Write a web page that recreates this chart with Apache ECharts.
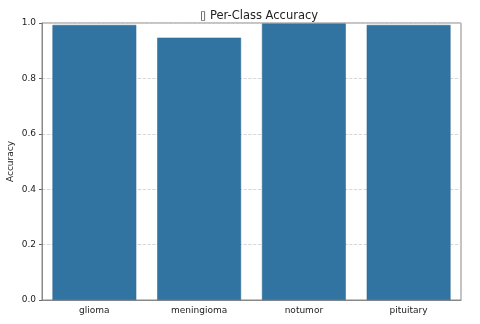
<!DOCTYPE html>
<html>
<head>
<meta charset="utf-8">
<script src="https://cdn.jsdelivr.net/npm/echarts@6/dist/echarts.min.js"></script>
<style>
  html, body { margin: 0; padding: 0; background: #fff; }
  #chart { width: 480px; height: 324px; }
</style>
</head>
<body>
<div id="chart"></div>
<script>
    // per-class accuracy
    var classes = ['glioma', 'meningioma', 'notumor', 'pituitary'];
    var accuracy = [0.993, 0.947, 0.998, 0.993];
    var yTicks = [0.0, 0.2, 0.4, 0.6, 0.8, 1.0];

    var myChart = echarts.init(document.getElementById('chart'));
    var option = {
        animation: false,
        title: {
            text: '\u25AF Per-Class Accuracy',
            left: 254,
            top: 5,
            textAlign: 'center',
            textStyle: { fontFamily: 'DejaVu Sans', fontSize: 11.5, fontWeight: 'normal', color: '#222' }
        },
        grid: {
            left: 42, right: 19, top: 23, bottom: 24,
            containLabel: false, outerBoundsMode: 'none',
            show: true, borderColor: '#888', borderWidth: 1
        },
        xAxis: {
            type: 'category',
            data: classes,
            axisLine: { lineStyle: { color: '#888' } },
            axisTick: { alignWithLabel: true, length: 3, lineStyle: { color: '#666' } },
            axisLabel: { fontFamily: 'DejaVu Sans', fontSize: 9, color: '#222', margin: 6 }
        },
        yAxis: {
            type: 'value',
            min: 0, max: 1, interval: 0.2,
            name: 'Accuracy',
            nameLocation: 'middle',
            nameGap: 27,
            nameMoveOverlap: false,
            nameTextStyle: { fontFamily: 'DejaVu Sans', fontSize: 9, color: '#222' },
            axisLine: { show: true, lineStyle: { color: '#888' } },
            axisTick: { show: true, length: 3, lineStyle: { color: '#666' } },
            axisLabel: {
                fontFamily: 'DejaVu Sans', fontSize: 9, color: '#222', margin: 6,
                formatter: function (v) {
                    for (var i = 0; i < yTicks.length; i++) {
                        if (Math.abs(yTicks[i] - v) < 1e-9) return yTicks[i].toFixed(1);
                    }
                    return '';
                }
            },
            splitLine: { show: true, lineStyle: { color: '#ccc', type: 'dashed', width: 0.8 } }
        },
        series: [{
            type: 'bar',
            data: accuracy,
            barCategoryGap: '20%',
            itemStyle: { color: '#3274a1', borderColor: '#2b6590', borderWidth: 0.5 }
        }]
    };
    myChart.setOption(option);
</script>
</body>
</html>
